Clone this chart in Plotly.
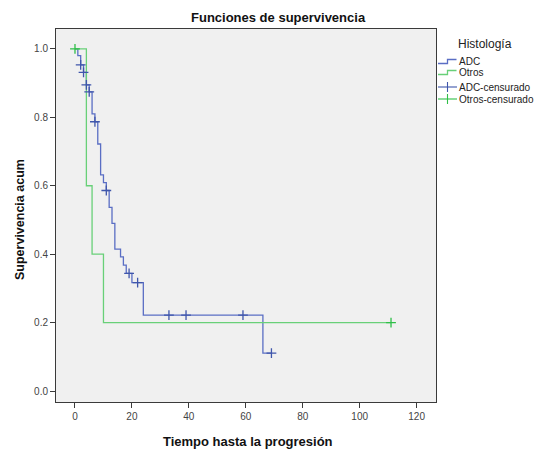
import plotly.graph_objects as go

# ---- data ----
adc_t = [0, 1, 2, 3, 4, 5, 6, 7, 8, 9, 10, 11, 12, 13, 14, 16, 17, 18, 20, 24, 66, 69]
adc_s = [1.0, 0.98, 0.953, 0.931, 0.895, 0.874, 0.81, 0.787, 0.722, 0.632, 0.609, 0.586,
         0.537, 0.49, 0.415, 0.392, 0.368, 0.344, 0.317, 0.222, 0.111, 0.111]
adc_cens_t = [2, 3, 4, 5, 7, 11, 19, 22, 33, 39, 59, 69]
adc_cens_s = [0.953, 0.931, 0.895, 0.874, 0.787, 0.586, 0.344, 0.317, 0.222, 0.222, 0.222, 0.111]

otros_t = [0, 4, 6, 10, 111]
otros_s = [1.0, 0.6, 0.4, 0.2, 0.2]
otros_cens_t = [0, 111]
otros_cens_s = [1.0, 0.2]

x_ticks = [0, 20, 40, 60, 80, 100, 120]
y_ticks = [0.0, 0.2, 0.4, 0.6, 0.8, 1.0]

chart_title = "Funciones de supervivencia"
x_title = "Tiempo hasta la progresión"
y_title = "Supervivencia acum"
legend_title = "Histología"
legend_names = ["ADC", "Otros", "ADC-censurado", "Otros-censurado"]

BLUE_LINE = "#5a6ec4"
GREEN_LINE = "#68d078"
BLUE_MARK = "#3f56ab"
GREEN_MARK = "#2fbf48"

FONT = "Liberation Sans, Arial, sans-serif"
W, H = 534, 455
L, R, T, B = 56, 98, 29, 53
PW, PH = W - L - R, H - T - B


def px(x):
    return (x - L) / PW


def py(y):
    return (H - B - y) / PH


fig = go.Figure()
fig.add_trace(go.Scatter(x=adc_t, y=adc_s, mode="lines", line=dict(shape="hv", color=BLUE_LINE, width=1.3),
                         name=legend_names[0], showlegend=False, hoverinfo="x+y"))
fig.add_trace(go.Scatter(x=otros_t, y=otros_s, mode="lines", line=dict(shape="hv", color=GREEN_LINE, width=1.3),
                         name=legend_names[1], showlegend=False, hoverinfo="x+y"))
fig.add_trace(go.Scatter(x=adc_cens_t, y=adc_cens_s, mode="markers",
                         marker=dict(symbol="cross-thin", size=7, line=dict(color=BLUE_MARK, width=1.3)),
                         name=legend_names[2], showlegend=False))
fig.add_trace(go.Scatter(x=otros_cens_t, y=otros_cens_s, mode="markers",
                         marker=dict(symbol="cross-thin", size=7, line=dict(color=GREEN_MARK, width=1.3)),
                         name=legend_names[3], showlegend=False))

axis_common = dict(showline=True, mirror=True, linecolor="#3a3a3a", linewidth=1, automargin=False,
                   ticks="outside", ticklen=5, tickcolor="#3a3a3a", showgrid=False, zeroline=False,
                   tickfont=dict(family=FONT, size=10, color="#444444"))

fig.update_layout(
    width=W, height=H,
    margin=dict(l=L, r=R, t=T, b=B, autoexpand=False),
    paper_bgcolor="white", plot_bgcolor="#f0f0f0",
    xaxis=dict(range=[-6.67, 126.8], tickvals=x_ticks, **axis_common),
    yaxis=dict(range=[-0.032, 1.058], tickvals=y_ticks, tickformat=".1f", **axis_common),
    showlegend=False,
)

annotations = [
    dict(text=f"<b>{chart_title}</b>", x=px(278), y=py(18), xref="paper", yref="paper",
         showarrow=False, xanchor="center", yanchor="middle",
         font=dict(family=FONT, size=13, color="#111111")),
    dict(text=f"<b>{x_title}</b>", x=px(248), y=py(441), xref="paper", yref="paper",
         showarrow=False, xanchor="center", yanchor="middle",
         font=dict(family=FONT, size=13, color="#111111")),
    dict(text=f"<b>{y_title}</b>", x=px(20), y=py(220), xref="paper", yref="paper", textangle=-90,
         showarrow=False, xanchor="center", yanchor="middle",
         font=dict(family=FONT, size=12.5, color="#111111")),
    dict(text=legend_title, x=px(485), y=py(44), xref="paper", yref="paper", showarrow=False,
         xanchor="center", yanchor="middle",
         font=dict(family=FONT, size=12, color="#222222")),
]
shapes = []
rows = [62, 73, 87, 99]
cols = [BLUE_LINE, GREEN_LINE, BLUE_MARK, GREEN_MARK]
for i, (name, ry, c) in enumerate(zip(legend_names, rows, cols)):
    annotations.append(dict(text=name, x=px(457), y=py(ry), xref="paper", yref="paper", showarrow=False,
                            xanchor="left", yanchor="middle",
                            font=dict(family=FONT, size=10, color="#222222")))
    if i < 2:
        path = (f"M {px(438)},{py(ry + 1.5)} L {px(447.5)},{py(ry + 1.5)} "
                f"L {px(447.5)},{py(ry - 2.5)} L {px(456.5)},{py(ry - 2.5)}")
        shapes.append(dict(type="path", path=path, xref="paper", yref="paper",
                           line=dict(color=c, width=1.3)))
    else:
        shapes.append(dict(type="line", x0=px(438), x1=px(457), y0=py(ry), y1=py(ry),
                           xref="paper", yref="paper", line=dict(color=c, width=1.1)))
        shapes.append(dict(type="line", x0=px(447.5), x1=px(447.5), y0=py(ry - 5), y1=py(ry + 5),
                           xref="paper", yref="paper", line=dict(color=c, width=1.1)))

fig.update_layout(annotations=annotations, shapes=shapes)
fig.write_html("out.html")
